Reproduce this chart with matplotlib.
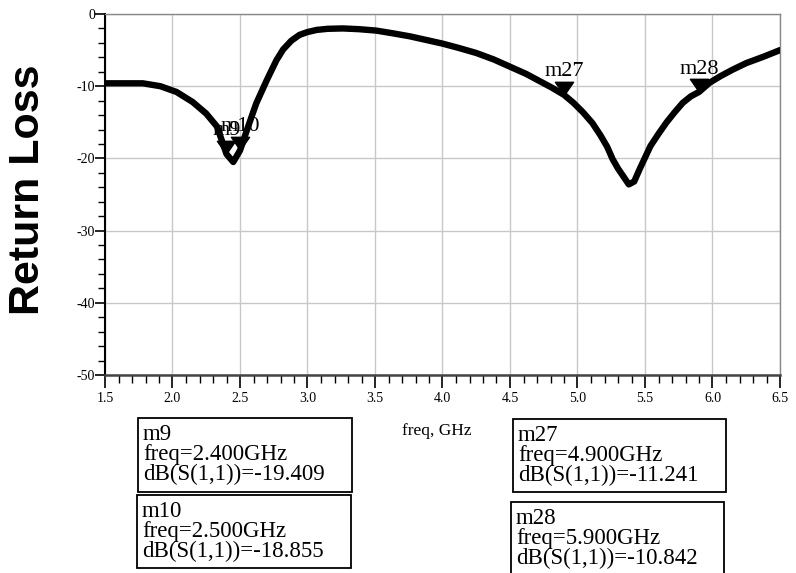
import numpy as np
import matplotlib
matplotlib.use("Agg")
from matplotlib import pyplot as plt
from matplotlib.patches import Rectangle

# return loss curve (freq in GHz, dB)
freq = [1.5, 1.65, 1.78, 1.91, 2.03, 2.15, 2.25, 2.33, 2.4, 2.45, 2.5, 2.56, 2.62,
        2.7, 2.77, 2.82, 2.88, 2.94, 3.0, 3.07, 3.15, 3.26, 3.38, 3.51, 3.64, 3.76,
        3.88, 4.0, 4.12, 4.25, 4.38, 4.5, 4.62, 4.72, 4.81, 4.9, 4.97, 5.04, 5.11,
        5.17, 5.22, 5.26, 5.3, 5.34, 5.38, 5.42, 5.46, 5.5, 5.54, 5.6, 5.66, 5.72,
        5.78, 5.84, 5.9, 5.98, 6.06, 6.15, 6.25, 6.38, 6.5]
s11_db = [-9.6, -9.6, -9.6, -10.0, -10.8, -12.2, -13.8, -15.6, -19.4, -20.5, -18.9,
          -15.6, -12.4, -9.1, -6.4, -4.9, -3.7, -2.9, -2.5, -2.2, -2.05, -2.0, -2.1,
          -2.3, -2.7, -3.1, -3.6, -4.1, -4.7, -5.4, -6.3, -7.3, -8.3, -9.3, -10.2,
          -11.2, -12.3, -13.6, -15.1, -16.8, -18.4, -20.1, -21.4, -22.5, -23.6, -23.2,
          -21.5, -19.9, -18.3, -16.6, -15.0, -13.6, -12.3, -11.4, -10.8, -9.5, -8.6,
          -7.7, -6.8, -5.9, -5.0]

marker_names = ["m9", "m10", "m27", "m28"]
marker_freq = [2.4, 2.5, 4.9, 5.9]
marker_db = [-19.409, -18.855, -11.241, -10.842]

serif = "Liberation Serif"
W, H = 796, 573

fig = plt.figure(figsize=(7.96, 5.73), dpi=100)
ax = fig.add_axes([105/W, 1-375/H, 675/W, 361/H])

ax.plot(freq, s11_db, color="black", lw=4.6, solid_joinstyle="round",
        solid_capstyle="round", zorder=3)

# down triangle with its tip on the data point
tri = [(0, 0), (-0.69, 1), (0.69, 1), (0, 0)]
for name, fx, fy in zip(marker_names, marker_freq, marker_db):
    ax.plot([fx], [fy], marker=tri, markersize=19, color="black", zorder=4, clip_on=False)
    ax.annotate(name, (fx, fy), xytext=(0, 13.5), textcoords="offset points",
                ha="center", va="baseline", fontsize=16, family=serif, zorder=5)

ax.set_xlim(1.5, 6.5)
ax.set_ylim(-50, 0)
xt = np.arange(1.5, 6.51, 0.5)
yt = np.arange(-50, 0.1, 10)
ax.set_xticks(xt)
ax.set_xticks(np.arange(1.5, 6.51, 0.1), minor=True)
ax.set_yticks(yt)
ax.set_yticks(np.arange(-50, 0.1, 2), minor=True)
ax.set_xticklabels(["%.1f" % v for v in xt])
ax.set_yticklabels(["%d" % v for v in yt])
for lab in ax.get_xticklabels() + ax.get_yticklabels():
    lab.set_family(serif)
    lab.set_fontsize(10)

ax.tick_params(axis="x", which="major", length=9, width=1.2, direction="out", pad=3)
ax.tick_params(axis="x", which="minor", length=6, width=1, direction="out")
ax.tick_params(axis="y", which="major", length=7, width=1.2, direction="out", pad=0)
ax.tick_params(axis="y", which="minor", length=5, width=1, direction="out")

ax.grid(True, which="major", color="#c8c8c8", lw=1)
ax.set_axisbelow(True)
ax.spines["left"].set_color("black")
ax.spines["left"].set_linewidth(1.5)
ax.spines["bottom"].set_color("#444444")
ax.spines["bottom"].set_linewidth(1.8)
for s in ["top", "right"]:
    ax.spines[s].set_color("#888888")
    ax.spines[s].set_linewidth(1)

fig.text(28/W, 1-190/H, "Return Loss", rotation=90, ha="center", va="center",
         fontsize=31, fontweight="bold", family="Liberation Sans")
fig.text(437/W, 1-435/H, "freq, GHz", ha="center", va="baseline", fontsize=12.5, family=serif)

# marker readout boxes (left, top, width, height in pixels)
boxes = [(138, 418, 214, 74), (137, 495, 214, 73), (513, 419, 213, 73), (511, 502, 213, 90)]
for (bx, by, bw, bh), name, fx, fy in zip(boxes, marker_names, marker_freq, marker_db):
    fig.patches.append(Rectangle((bx/W, 1-(by+bh)/H), bw/W, bh/H,
                                 transform=fig.transFigure, fill=False, ec="black", lw=1.3))
    lines = [name, "freq=%.3fGHz" % fx, "dB(S(1,1))=%.3f" % fy]
    for i, line in enumerate(lines):
        fig.text((bx+5)/W, 1-(by+22+20*i)/H, line, ha="left", va="baseline",
                 fontsize=16.5, family=serif)

fig.savefig("out.png", dpi=100)
